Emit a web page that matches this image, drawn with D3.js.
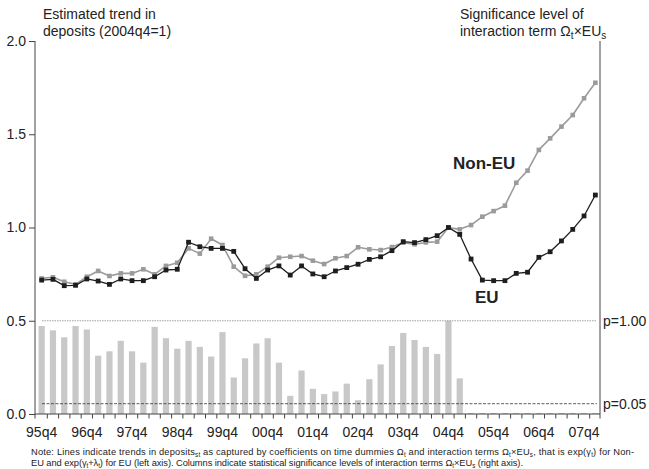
<!DOCTYPE html>
<html><head><meta charset="utf-8">
<script src="https://cdn.jsdelivr.net/npm/d3@7"></script>
<style>
body{margin:0;background:#fff;}
svg{display:block;font-family:"Liberation Sans",Arial,Helvetica,sans-serif;}
</style>
</head><body>
<svg id="c" width="649" height="469"></svg>
<script>
// ---------- data ----------
const quarters = ["95q4",
  "96q1","96q2","96q3","96q4","97q1","97q2","97q3","97q4",
  "98q1","98q2","98q3","98q4","99q1","99q2","99q3","99q4",
  "00q1","00q2","00q3","00q4","01q1","01q2","01q3","01q4",
  "02q1","02q2","02q3","02q4","03q1","03q2","03q3","03q4",
  "04q1","04q2","04q3","04q4","05q1","05q2","05q3","05q4",
  "06q1","06q2","06q3","06q4","07q1","07q2","07q3","07q4","08q1"];
const euTrend = [0.718,0.722,0.688,0.690,0.724,0.713,0.695,0.724,0.715,0.715,
  0.736,0.772,0.776,0.921,0.897,0.888,0.888,0.872,0.779,0.727,
  0.772,0.794,0.745,0.794,0.751,0.736,0.767,0.785,0.803,0.829,
  0.843,0.876,0.924,0.919,0.935,0.956,1.000,0.963,0.831,0.718,
  0.715,0.715,0.754,0.760,0.840,0.870,0.928,0.990,1.062,1.174];
const nonEuTrend = [0.727,0.733,0.709,0.695,0.736,0.767,0.740,0.754,0.754,0.776,
  0.749,0.794,0.811,0.888,0.860,0.940,0.906,0.790,0.741,0.749,
  0.790,0.838,0.843,0.847,0.822,0.804,0.835,0.847,0.894,0.883,
  0.879,0.895,0.919,0.910,0.920,0.924,1.000,0.990,1.013,1.058,
  1.088,1.117,1.240,1.305,1.416,1.478,1.541,1.603,1.693,1.776];
const pValues = [0.94,0.89,0.81,0.94,0.90,0.60,0.65,0.77,0.65,0.52,
  0.93,0.80,0.68,0.77,0.70,0.59,0.87,0.35,0.57,0.74,
  0.80,0.52,0.14,0.43,0.22,0.16,0.19,0.28,0.09,0.33,
  0.50,0.71,0.86,0.78,0.70,0.62,1.00,0.34,0.005,0.005,
  0.005,0.005,0.005,0.005,0.005,0.005,0.005,0.005,0.005,0.005];
const xTickLabels = ["95q4","96q4","97q4","98q4","99q4","00q4","01q4","02q4","03q4","04q4","05q4","06q4","07q4"];
const yLeftTicks = [0, 0.5, 1.0, 1.5, 2.0];
const pRefLevels = [1.00, 0.05];

// ---------- layout ----------
const svg = d3.select("#c");
const axL = 35, axR = 600;
const textCol = "#222";

const xb = d3.scaleBand().domain(quarters).range([36, 601]);
const cx = q => xb(q) + xb.bandwidth() / 2;
const yL = d3.scaleLinear().domain([0, 2]).range([414, 41]);
const yR = d3.scaleLinear().domain([0, 0.05, 1]).range([yL(0), 403.7, yL(0.5)]);

// bars
const barW = xb.bandwidth() * 0.55;
svg.append("g").selectAll("rect").data(quarters).join("rect")
  .attr("x", q => cx(q) - barW / 2)
  .attr("y", (q, i) => yR(pValues[i]))
  .attr("width", barW)
  .attr("height", (q, i) => yR(0) - yR(pValues[i]))
  .attr("fill", "#c8c8c8");

// reference p lines
svg.append("g").selectAll("line").data(pRefLevels).join("line")
  .attr("x1", 42).attr("x2", 597)
  .attr("y1", d => yR(d)).attr("y2", d => yR(d))
  .attr("stroke", d => d === 1 ? "#8a8a8a" : "#333")
  .attr("stroke-width", 0.8)
  .attr("stroke-dasharray", d => d === 1 ? "1.5,1" : "3,1.5");

// axes
const gL = svg.append("g").attr("transform", `translate(${axL},0)`)
  .call(d3.axisLeft(yL).tickValues(yLeftTicks).tickFormat(d3.format(".1f")).tickSize(6).tickSizeOuter(0));
gL.select(".domain").remove();
gL.selectAll("line").attr("stroke", "#444");
gL.selectAll("text").attr("font-size", 14).attr("fill", textCol).attr("font-family", "Liberation Sans, Arial, sans-serif");

svg.append("line").attr("x1", axL).attr("x2", axL).attr("y1", yL(2)).attr("y2", yL(0) + 4.5).attr("stroke", "#444");
svg.append("line").attr("x1", axR).attr("x2", axR).attr("y1", yL(2)).attr("y2", yL(0) + 4.5).attr("stroke", "#444");
svg.append("line").attr("x1", axL).attr("x2", axR).attr("y1", yL(0)).attr("y2", yL(0)).attr("stroke", "#444");

// quarter boundary ticks
svg.append("g").selectAll("line").data(quarters.slice(1)).join("line")
  .attr("x1", q => xb(q)).attr("x2", q => xb(q))
  .attr("y1", yL(0)).attr("y2", yL(0) + 4.5)
  .attr("stroke", "#444");

const gB = svg.append("g").attr("transform", `translate(0,${yL(0)})`)
  .call(d3.axisBottom(xb).tickValues(xTickLabels).tickSize(0).tickPadding(13));
gB.select(".domain").remove();
gB.selectAll("text").attr("font-size", 14).attr("fill", textCol).attr("font-family", "Liberation Sans, Arial, sans-serif");

const gR = svg.append("g").attr("transform", `translate(${axR},0)`)
  .call(d3.axisRight(yR).tickValues(pRefLevels).tickSize(0).tickPadding(3).tickFormat(d => "p=" + d.toFixed(2)));
gR.select(".domain").remove();
gR.selectAll("text").attr("font-size", 14).attr("fill", textCol).attr("font-family", "Liberation Sans, Arial, sans-serif");

// lines
const line = d3.line().x((d, i) => cx(quarters[i])).y(d => yL(d));
function series(vals, col, lw, sz) {
  const g = svg.append("g");
  g.append("path").datum(vals).attr("d", line).attr("fill", "none")
    .attr("stroke", col).attr("stroke-width", lw).attr("stroke-linejoin", "round");
  g.selectAll("rect").data(vals).join("rect")
    .attr("x", (d, i) => cx(quarters[i]) - sz / 2)
    .attr("y", d => yL(d) - sz / 2)
    .attr("width", sz).attr("height", sz).attr("fill", col);
}
series(nonEuTrend, "#9b9b9b", 1.6, 4.6);
series(euTrend, "#1e1e1e", 1.3, 4.8);

// series labels
svg.append("text").attr("x", 453).attr("y", 169).attr("font-size", 17).attr("font-weight", "bold").attr("fill", textCol).text("Non-EU");
svg.append("text").attr("x", 475).attr("y", 303).attr("font-size", 17).attr("font-weight", "bold").attr("fill", textCol).text("EU");

// axis titles
const tL = svg.append("text").attr("font-size", 14).attr("fill", textCol);
tL.append("tspan").attr("x", 43).attr("y", 19).text("Estimated trend in");
tL.append("tspan").attr("x", 43).attr("y", 36).text("deposits (2004q4=1)");

svg.append("text").attr("font-size", 14).attr("fill", textCol)
  .attr("x", 460).attr("y", 19).text("Significance level of");
const l2 = svg.append("text").attr("font-size", 14).attr("fill", textCol)
  .attr("x", 460).attr("y", 36);
l2.append("tspan").text("interaction term Ω");
l2.append("tspan").attr("font-size", 10).attr("dy", 3).text("t");
l2.append("tspan").attr("dy", -3).text("×EU");
l2.append("tspan").attr("font-size", 10).attr("dy", 3).text("s");

// note
function noteLine(y, len, parts) {
  const t = svg.append("text").attr("x", 31).attr("y", y).attr("font-size", 9.3).attr("fill", textCol)
    .attr("textLength", len).attr("lengthAdjust", "spacing");
  let sub = false;
  parts.forEach(p => {
    const s = t.append("tspan");
    if (p.sub) { s.attr("font-size", 6.3).attr("dy", sub ? 0 : 1.9); sub = true; }
    else { s.attr("dy", sub ? -1.9 : 0); sub = false; }
    s.text(p.t);
  });
}
noteLine(455, 603, [
  {t: "Note: Lines indicate trends in deposits"}, {t: "st", sub: true},
  {t: " as captured by coefficients on time dummies Ω"}, {t: "t", sub: true},
  {t: " and interaction terms Ω"}, {t: "t", sub: true}, {t: "×EU"}, {t: "s", sub: true},
  {t: ", that is exp(γ"}, {t: "t", sub: true}, {t: ") for Non-"}
]);
noteLine(466, 492, [
  {t: "EU and exp(γ"}, {t: "t", sub: true}, {t: "+λ"}, {t: "t", sub: true},
  {t: ") for EU (left axis). Columns indicate statistical significance levels of interaction terms Ω"},
  {t: "t", sub: true}, {t: "×EU"}, {t: "s", sub: true}, {t: " (right axis)."}
]);
</script>
</body></html>
